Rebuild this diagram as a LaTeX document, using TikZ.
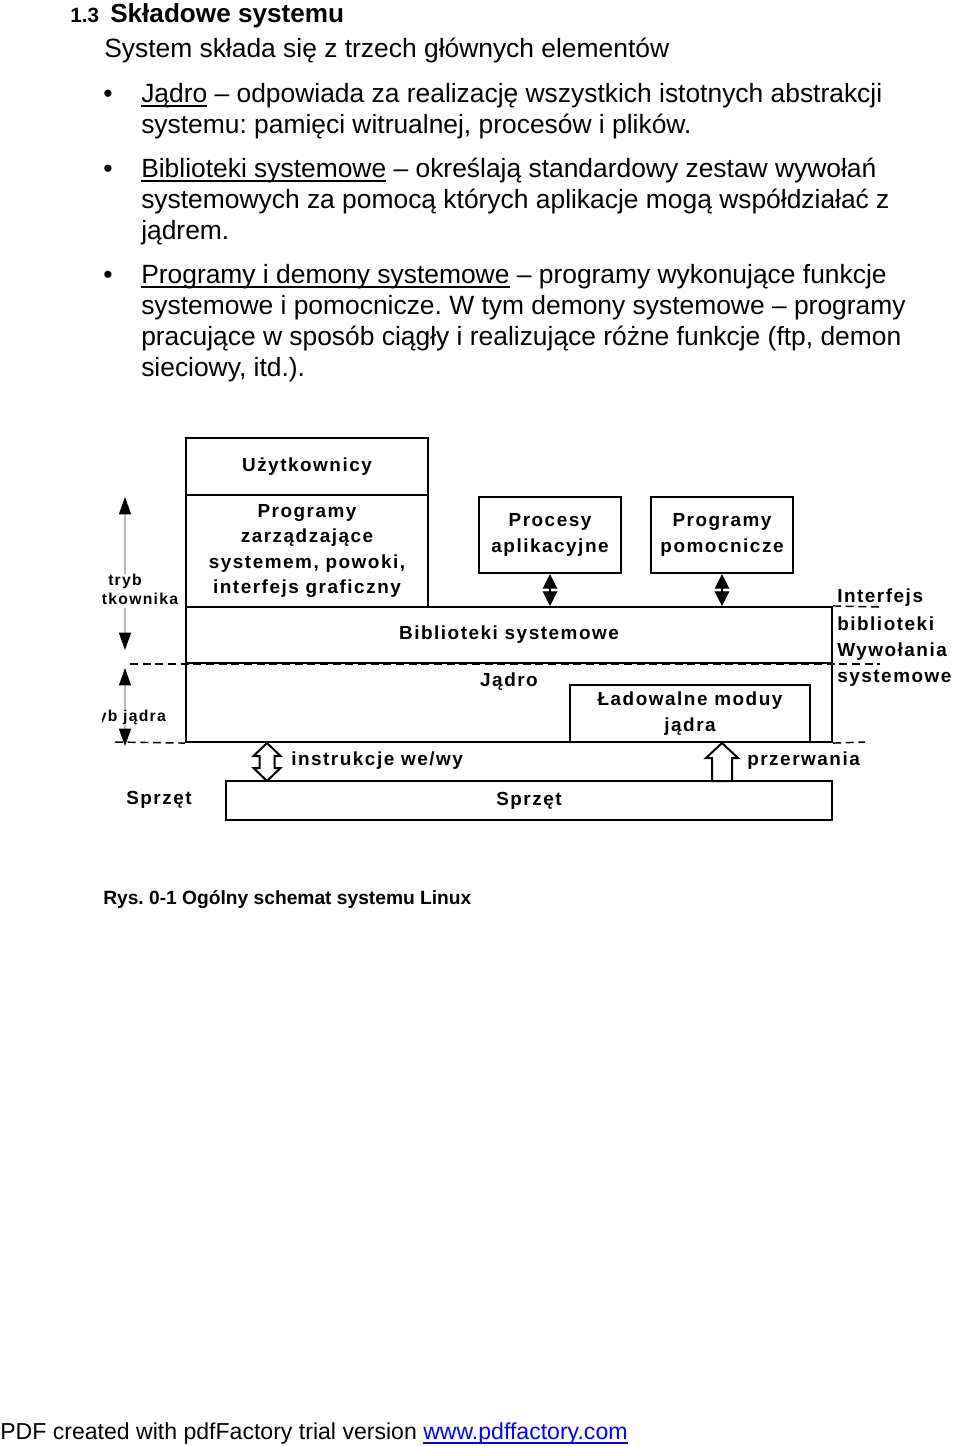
\documentclass[tikz,border=0pt]{standalone}
\usepackage{fontspec}
\setmainfont{Liberation Sans}
\newfontfamily\diagfont[LetterSpace=8]{Liberation Sans Bold}
\usetikzlibrary{arrows.meta}

\newsavebox{\podkrbox}
\newcommand{\podkr}[1]{\sbox{\podkrbox}{#1}\rlap{\vrule height -2.2pt depth 3.4pt width \wd\podkrbox}\usebox{\podkrbox}}

\tikzset{
  tekst/.style={anchor=base west, inner sep=0pt, font=\fontsize{19.8}{23.25}\selectfont},
  blok/.style={draw, line width=1.6pt, inner sep=0pt, align=center,
    font=\diagfont\fontsize{14.2}{19}\selectfont},
  opis/.style={inner sep=0pt, align=center, font=\diagfont\fontsize{14.2}{19}\selectfont},
  opismaly/.style={inner sep=0pt, align=center, font=\diagfont\fontsize{11.8}{14}\selectfont},
  kreska/.style={line width=1.1pt, dash pattern=on 6pt off 3.5pt},
  trybstrz/.style={draw=gray!55, line width=0.8pt, -{Triangle[black,length=13pt,width=9pt]}},
  czarna/.style={line width=1pt, {Triangle[length=11pt,width=11pt]}-{Triangle[length=11pt,width=11pt]}},
  pusta/.style={draw, line width=1.5pt, fill=white, line join=miter},
}

\begin{document}
\frenchspacing
\begin{tikzpicture}[x=0.75pt,y=-0.75pt]
\useasboundingbox (0,0) rectangle (960,1446);

% Text Node
\node (nr) [anchor=base west, inner sep=0pt, font=\bfseries\fontsize{15.5}{18}\selectfont] at (70,22) {1.3};
\node (tytul) [anchor=base west, inner sep=0pt, font=\bfseries\fontsize{19.6}{23}\selectfont] at (110,22) {Składowe systemu};
\node (wstep) [tekst] at (104,57.5) {System składa się z trzech głównych elementów};
% Text Node
\node (kropka1) [anchor=base, inner sep=0pt, font=\fontsize{19.8}{23.25}\selectfont] at (108,102.5) {•};
\node (pkt1a) [tekst] at (141,102.5) {\podkr{Jądro} – odpowiada za realizację wszystkich istotnych abstrakcji};
\node (pkt1b) [tekst] at (141,133.5) {systemu: pamięci witrualnej, procesów i plików.};
% Text Node
\node (kropka2) [anchor=base, inner sep=0pt, font=\fontsize{19.8}{23.25}\selectfont] at (108,177.5) {•};
\node (pkt2a) [tekst] at (141,177.5) {\podkr{Biblioteki systemowe} – określają standardowy zestaw wywołań};
\node (pkt2b) [tekst] at (141,208.5) {systemowych za pomocą których aplikacje mogą współdziałać z};
\node (pkt2c) [tekst] at (141,239.5) {jądrem.};
% Text Node
\node (kropka3) [anchor=base, inner sep=0pt, font=\fontsize{19.8}{23.25}\selectfont] at (108,283.5) {•};
\node (pkt3a) [tekst] at (141,283.5) {\podkr{Programy i demony systemowe} – programy wykonujące funkcje};
\node (pkt3b) [tekst] at (141,314.5) {systemowe i pomocnicze. W tym demony systemowe – programy};
\node (pkt3c) [tekst] at (141,345.5) {pracujące w sposób ciągły i realizujące różne funkcje (ftp, demon};
\node (pkt3d) [tekst] at (141,376.5) {sieciowy, itd.).};

%Shape: Rectangle
\node (uzyt) [blok, minimum width=242*0.75pt, minimum height=57*0.75pt] at (307,466.5) {Użytkownicy};
\node (zarz) [blok, minimum width=242*0.75pt, minimum height=112*0.75pt] at (307,551) {Programy\\zarządzające\\systemem, powoki,\\interfejs graficzny};
\node (procesy) [blok, minimum width=142*0.75pt, minimum height=76*0.75pt] at (550,535) {Procesy\\aplikacyjne};
\node (pomoc) [blok, minimum width=142*0.75pt, minimum height=76*0.75pt] at (722,535) {Programy\\pomocnicze};
\node (bibl) [blok, minimum width=646*0.75pt, minimum height=56*0.75pt] at (509,635) {Biblioteki systemowe};
\node (jadro) [blok, minimum width=646*0.75pt, minimum height=79*0.75pt] at (509,702.5) {};
\node (jadrotxt) [opis] at (509,682) {Jądro};
\node (ladow) [blok, minimum width=240*0.75pt, minimum height=57*0.75pt] at (690,713.5) {Ładowalne moduy\\jądra};
\node (sprzet) [blok, minimum width=606*0.75pt, minimum height=39*0.75pt] at (529,800.5) {Sprzęt};
\node (sprzetl) [opis] at (159,800) {Sprzęt};

%Straight Lines
\draw [czarna] (procesy.south) -- (procesy.south |- bibl.north);
\draw [czarna] (pomoc.south) -- (pomoc.south |- bibl.north);

%Dashed Lines
\coordinate (k1l) at (130,664);
\coordinate (k1p) at (880,664);
\coordinate (k2l) at (115,742);
\coordinate (k3p) at (865,742);
\coordinate (k4p) at (880,607);
\draw [kreska] (k1l) -- (k1p);
\draw [kreska] (k2l) -- (jadro.south west);
\draw [kreska] (jadro.south east) -- (k3p);
\draw [kreska] (bibl.north east) -- (k4p);

%Hollow arrows
\coordinate (wegora) at (267,743);
\draw [pusta] (wegora) -- ++(13.5,13) -- ++(-6,0) -- ++(0,12) -- ++(6,0) -- ++(-13.5,13)
  -- ++(-13.5,-13) -- ++(6,0) -- ++(0,-12) -- ++(-6,0) -- cycle;
\node (we) [opis, anchor=west] at (291,761) {instrukcje we/wy};
\coordinate (przergora) at (722,743);
\draw [pusta] (przergora) -- ++(16,15) -- ++(-6,0) -- ++(0,23) -- ++(-20,0) -- ++(0,-23) -- ++(-6,0) -- cycle;
\node (przer) [opis, anchor=west] at (747,761) {przerwania};

% Text Node
\node (interf1) [opis, anchor=west] at (837,598) {Interfejs};
\node (interf2) [opis, anchor=west] at (837,624) {biblioteki};
\node (wyw1) [opis, anchor=west] at (837,652) {Wywołania};
\node (wyw2) [opis, anchor=west] at (837,678) {systemowe};

%Mode arrows
\begin{scope}
\clip (102,480) rectangle (185,760);
\node (trybu) [opismaly] at (125,591) {tryb\\użytkownika};
\node (trybj) [opismaly] at (125,717) {tryb jądra};
\end{scope}
\coordinate (trybugora) at (125,497);
\coordinate (trybudol) at (125,650);
\coordinate (trybjgora) at (125,668);
\coordinate (trybjdol) at (125,746);
\draw [trybstrz] (trybu.north) -- (trybugora);
\draw [trybstrz] (trybu.south) -- (trybudol);
\draw [trybstrz] (trybj.north) -- (trybjgora);
\draw [trybstrz] (trybj.south) -- (trybjdol);

% Text Node
\node (podpis) [anchor=base west, inner sep=0pt, font=\bfseries\fontsize{14.4}{17}\selectfont] at (103,904) {Rys. 0-1 Ogólny schemat systemu Linux};
\node (stopka) [anchor=base west, inner sep=0pt, font=\fontsize{17.3}{20}\selectfont] at (0,1439) {PDF created with pdfFactory trial version \textcolor{blue}{\podkr{www.pdffactory.com}}};

\end{tikzpicture}
\end{document}
